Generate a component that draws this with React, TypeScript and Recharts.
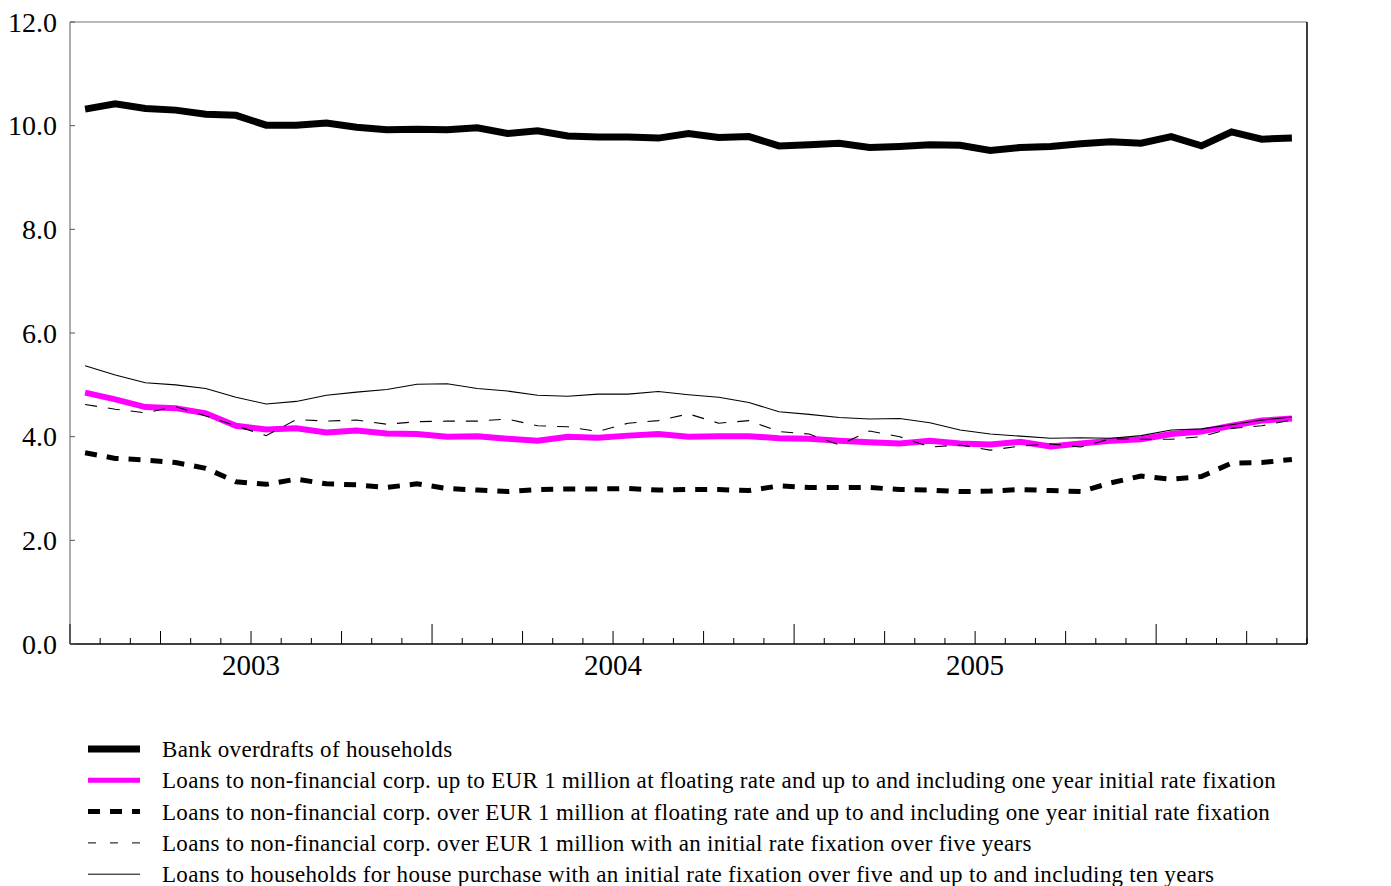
import React from 'react'
import { LineChart, Line, XAxis, YAxis, ReferenceLine } from 'recharts'

// monthly observations, Jan 2003 - May 2006 (percentages per annum)
const months = [
  '2003-01', '2003-02', '2003-03', '2003-04', '2003-05', '2003-06', '2003-07', '2003-08', '2003-09', '2003-10', '2003-11', '2003-12',
  '2004-01', '2004-02', '2004-03', '2004-04', '2004-05', '2004-06', '2004-07', '2004-08', '2004-09', '2004-10', '2004-11', '2004-12',
  '2005-01', '2005-02', '2005-03', '2005-04', '2005-05', '2005-06', '2005-07', '2005-08', '2005-09', '2005-10', '2005-11', '2005-12',
  '2006-01', '2006-02', '2006-03', '2006-04', '2006-05',
]

const overdrafts = [
  10.32, 10.42, 10.33, 10.30, 10.22, 10.20, 10.01, 10.01, 10.05, 9.97, 9.92, 9.93,
  9.92, 9.96, 9.85, 9.90, 9.80, 9.78, 9.78, 9.76, 9.85, 9.77, 9.79, 9.61,
  9.63, 9.66, 9.58, 9.60, 9.63, 9.62, 9.52, 9.58, 9.60, 9.65, 9.69, 9.66,
  9.79, 9.61, 9.88, 9.74, 9.76,
]
const smallFloating = [
  4.85, 4.72, 4.57, 4.55, 4.45, 4.21, 4.14, 4.16, 4.08, 4.12, 4.06, 4.05,
  4.00, 4.01, 3.96, 3.92, 4.00, 3.98, 4.02, 4.05, 4.00, 4.01, 4.01, 3.97,
  3.96, 3.92, 3.89, 3.87, 3.92, 3.87, 3.85, 3.90, 3.81, 3.87, 3.92, 3.95,
  4.05, 4.10, 4.21, 4.31, 4.35,
]
const largeFloating = [
  3.69, 3.58, 3.55, 3.50, 3.39, 3.13, 3.08, 3.18, 3.09, 3.07, 3.02, 3.09,
  3.00, 2.97, 2.94, 2.98, 2.99, 2.99, 3.00, 2.97, 2.98, 2.98, 2.96, 3.05,
  3.02, 3.02, 3.02, 2.98, 2.97, 2.94, 2.95, 2.98, 2.96, 2.94, 3.11, 3.24,
  3.18, 3.23, 3.49, 3.50, 3.56,
]
const largeOver5y = [
  4.62, 4.53, 4.46, 4.58, 4.40, 4.21, 4.02, 4.33, 4.30, 4.32, 4.24, 4.29,
  4.30, 4.30, 4.34, 4.21, 4.19, 4.10, 4.26, 4.31, 4.44, 4.26, 4.31, 4.10,
  4.05, 3.84, 4.11, 4.00, 3.80, 3.84, 3.74, 3.82, 3.86, 3.80, 3.96, 3.95,
  3.95, 4.00, 4.16, 4.21, 4.32,
]
const housePurchase = [
  5.37, 5.19, 5.04, 5.00, 4.93, 4.76, 4.63, 4.68, 4.80, 4.86, 4.91, 5.01,
  5.02, 4.93, 4.88, 4.80, 4.78, 4.82, 4.82, 4.87, 4.81, 4.76, 4.66, 4.48,
  4.43, 4.37, 4.34, 4.35, 4.27, 4.13, 4.05, 4.01, 3.97, 3.98, 3.97, 4.02,
  4.13, 4.15, 4.23, 4.32, 4.38,
]

const yearLabels = ['2003', '2004', '2005']
const yTicks = [0, 2, 4, 6, 8, 10, 12]

const FONT = "'Liberation Serif', 'Times New Roman', serif"

const series = [
  { key: 'overdrafts', name: 'Bank overdrafts of households', color: '#000', width: 7, dash: undefined, legendWidth: 7, legendDash: undefined },
  { key: 'smallFloating', name: 'Loans to non-financial corp. up to EUR 1 million at floating rate and up to and including one year initial rate fixation', color: '#ff00ff', width: 6, dash: undefined, legendWidth: 5, legendDash: undefined },
  { key: 'largeFloating', name: 'Loans to non-financial corp. over EUR 1 million at floating rate and up to and including one year initial rate fixation', color: '#000', width: 5, dash: '12 10', legendWidth: 5, legendDash: '12 10' },
  { key: 'largeOver5y', name: 'Loans to non-financial corp. over EUR 1 million with an initial rate fixation over five years', color: '#000', width: 1.1, dash: '12 11', legendWidth: 1, legendDash: '8 14' },
  { key: 'housePurchase', name: 'Loans to households for house purchase with an initial rate fixation over five and up to and including ten years', color: '#000', width: 1.1, dash: undefined, legendWidth: 1, legendDash: undefined },
]

const data = months.map((m, i) => ({
  x: i + 0.5,
  month: m,
  overdrafts: overdrafts[i],
  smallFloating: smallFloating[i],
  largeFloating: largeFloating[i],
  largeOver5y: largeOver5y[i],
  housePurchase: housePurchase[i],
}))

// month boundaries for the tick marks
const monthTicks = Array.from({ length: months.length + 1 }, (_, i) => i)

const XTick = ({ x, y, payload }: any) => {
  const i = payload.value
  const len = i % 12 === 0 ? 20 : i % 3 === 0 ? 13 : 6
  const label = i % 12 === 6 ? yearLabels[(i - 6) / 12] : undefined
  return (
    <g>
      <line x1={x} y1={y} x2={x} y2={y - len} stroke="#000" strokeWidth={1} />
      {label && (
        <text x={x} y={y + 31} textAnchor="middle" fontFamily={FONT} fontSize={29} fill="#000">
          {label}
        </text>
      )}
    </g>
  )
}

const LeftTick = ({ x, y, payload }: any) => (
  <g>
    <line x1={x} y1={y} x2={x + 5} y2={y} stroke="#555" />
    <text x={x - 13} y={y} dy="0.35em" textAnchor="end" fontFamily={FONT} fontSize={28} fill="#000">
      {payload.value.toFixed(1)}
    </text>
  </g>
)

const RightTick = ({ x, y, payload }: any) => (
  <g>
    <line x1={x} y1={y} x2={x - 5} y2={y} stroke="#555" />
    <text x={x + 17} y={y} dy="0.35em" textAnchor="start" fontFamily={FONT} fontSize={28} fill="#000">
      {payload.value.toFixed(1)}
    </text>
  </g>
)

const LegendBlock = () => (
  <svg width={1391} height={160} style={{ position: 'absolute', left: 0, top: 730 }}>
    {series.map((s, i) => {
      const cy = 19 + i * 31.3
      return (
        <g key={s.key}>
          <line x1={88} x2={140} y1={cy} y2={cy} stroke={s.color} strokeWidth={s.legendWidth} strokeDasharray={s.legendDash} />
          <text x={162} y={cy + 8} fontFamily={FONT} fontSize={23} letterSpacing={0.3} fill="#000">{s.name}</text>
        </g>
      )
    })}
  </svg>
)

export default function App() {
  return (
    <div style={{ position: 'absolute', left: 0, top: 0, width: 1391, height: 886, background: '#fff' }}>
      <LineChart width={1391} height={700} data={data} margin={{ top: 22, right: 0, left: 0, bottom: 0 }}>
        <XAxis
          dataKey="x"
          type="number"
          domain={[0, months.length]}
          ticks={monthTicks}
          interval={0}
          tick={<XTick />}
          tickSize={0}
          tickMargin={0}
          tickLine={false}
          axisLine={{ stroke: '#000', strokeWidth: 1.5 }}
          height={56}
        />
        <YAxis
          yAxisId="left"
          orientation="left"
          domain={[0, 12]}
          ticks={yTicks}
          interval={0}
          width={70}
          tick={<LeftTick />}
          tickSize={0}
          tickMargin={0}
          tickLine={false}
          axisLine={{ stroke: '#777', strokeWidth: 1.2 }}
        />
        <YAxis
          yAxisId="right"
          orientation="right"
          domain={[0, 12]}
          ticks={yTicks}
          interval={0}
          width={84}
          tick={<RightTick />}
          tickSize={0}
          tickMargin={0}
          tickLine={false}
          axisLine={{ stroke: '#000', strokeWidth: 1.5 }}
        />
        <ReferenceLine yAxisId="left" y={12} stroke="#777" strokeWidth={1.2} />
        {series.map((s) => (
          <Line
            key={s.key}
            yAxisId="left"
            type="linear"
            dataKey={s.key}
            name={s.name}
            stroke={s.color}
            strokeWidth={s.width}
            strokeDasharray={s.dash}
            dot={false}
            activeDot={false}
            isAnimationActive={false}
          />
        ))}
      </LineChart>
      <LegendBlock />
    </div>
  )
}
